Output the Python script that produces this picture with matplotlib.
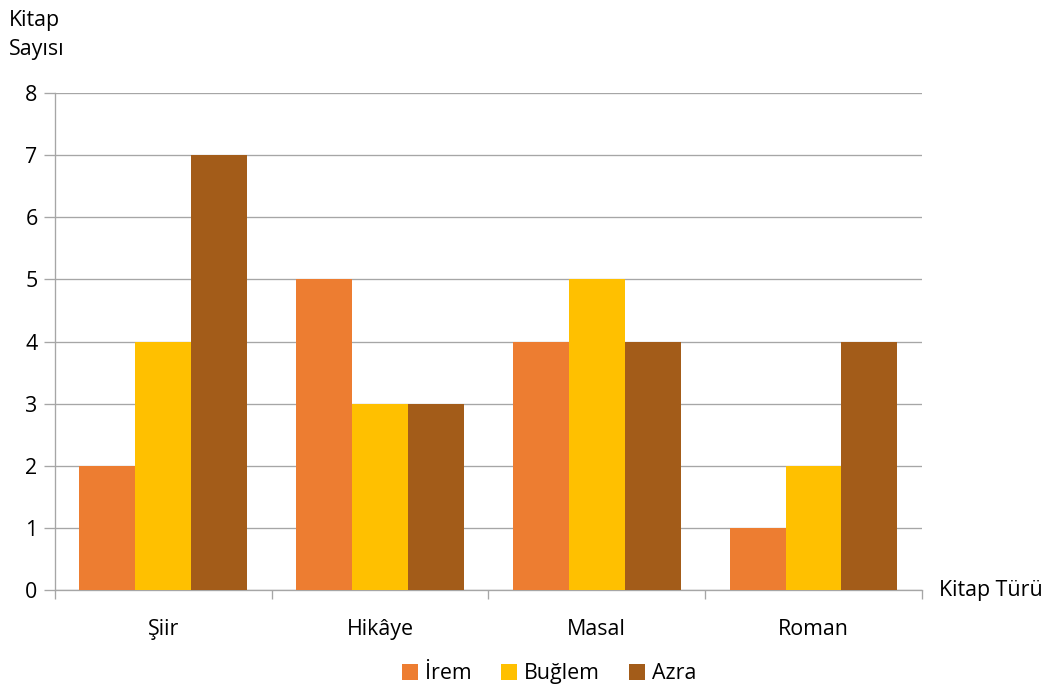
import matplotlib.pyplot as plt
import numpy as np

plt.rcParams['font.family'] = ['Open Sans', 'DejaVu Sans']

categories = ['Şiir', 'Hikâye', 'Masal', 'Roman']
series_names = ['İrem', 'Buğlem', 'Azra']
irem = [2, 5, 4, 1]
buglem = [4, 3, 5, 2]
azra = [7, 3, 4, 4]
colors = ['#ED7D31', '#FFC000', '#A35C19']

fig = plt.figure(figsize=(11, 7.21875), dpi=96)
ax = fig.add_axes([0.052, 0.1486, 0.821, 0.7172])

x = np.arange(len(categories))
w = 0.258
for i, (vals, name) in enumerate(zip([irem, buglem, azra], series_names)):
    ax.bar(x + (i - 1) * w, vals, width=w, color=colors[i], label=name,
           linewidth=0, zorder=3)

ax.set_xlim(-0.5, len(categories) - 0.5)
ax.set_ylim(0, 8)
ax.set_yticks(range(0, 9))
ax.yaxis.grid(True, color='#A6A6A6', linewidth=1, zorder=0)

ax.set_xticks(x)
ax.set_xticklabels(categories, fontsize=16)
ax.set_xticks(np.arange(-0.5, len(categories)), minor=True)
ax.tick_params(axis='x', which='major', length=0, pad=22)
ax.tick_params(axis='x', which='minor', length=7, color='#A6A6A6', width=1)
ax.tick_params(axis='y', length=8, color='#A6A6A6', width=1, labelsize=16, pad=5)

for s in ['top', 'right']:
    ax.spines[s].set_visible(False)
for s in ['left', 'bottom']:
    ax.spines[s].set_color('#A6A6A6')
    ax.spines[s].set_linewidth(1)

fig.text(0.008, 0.985, 'Kitap\nSayısı', fontsize=16, va='top', ha='left',
         linespacing=1.45)
fig.text(0.889, 0.1486, 'Kitap Türü', fontsize=16, va='center', ha='left')

fig.legend(loc='lower center', ncol=3, bbox_to_anchor=(0.52, -0.015),
           frameon=False, fontsize=16, handlelength=0.75, handleheight=0.75,
           handletextpad=0.3, columnspacing=1.4)

fig.savefig('out.png', dpi=96)
